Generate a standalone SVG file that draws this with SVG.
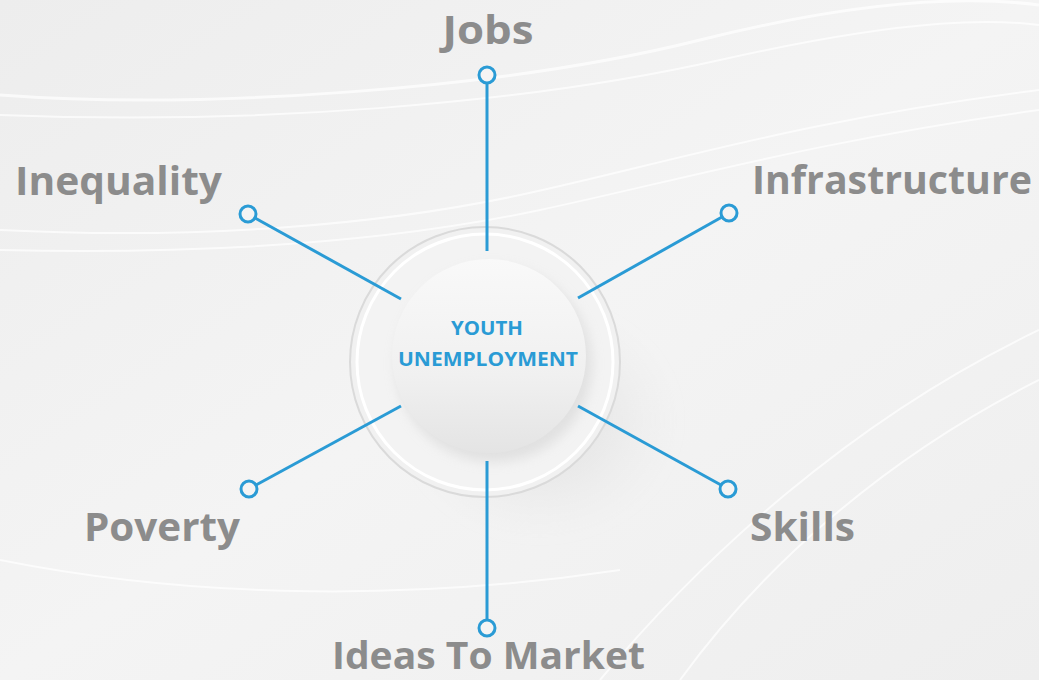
<svg xmlns="http://www.w3.org/2000/svg" width="1039" height="680" viewBox="0 0 1039 680">
<defs>
<style>
.lbl{font-family:"Open Sans","Liberation Sans",sans-serif;font-weight:700;fill:#8c8c8c;font-size:40px}
.ctr{font-family:"Open Sans","Liberation Sans",sans-serif;font-weight:700;fill:#2a9bd5;font-size:20px;text-anchor:middle}
.ln{stroke:#2a9bd5;stroke-width:3;fill:none}
.dot{stroke:#2a9bd5;stroke-width:3;fill:#f4f4f4}
.swoosh{fill:none;stroke:#ffffff;stroke-opacity:0.7}
</style>
<linearGradient id="bg" x1="0" y1="0" x2="1" y2="1">
<stop offset="0" stop-color="#ededed"/>
<stop offset="0.5" stop-color="#f4f4f4"/>
<stop offset="1" stop-color="#eeeeee"/>
</linearGradient>
<linearGradient id="disc" x1="0" y1="0" x2="0" y2="1">
<stop offset="0" stop-color="#f9f9f9"/>
<stop offset="0.6" stop-color="#f0f0f0"/>
<stop offset="1" stop-color="#e4e4e4"/>
</linearGradient>
<radialGradient id="shadow" cx="0.5" cy="0.5" r="0.5">
<stop offset="0" stop-color="#cfcfcf" stop-opacity="0.6"/>
<stop offset="1" stop-color="#e0e0e0" stop-opacity="0"/>
</radialGradient>
<filter id="blur" x="-20%" y="-20%" width="140%" height="140%"><feGaussianBlur stdDeviation="6"/></filter>
</defs>
<rect width="1039" height="680" fill="url(#bg)"/>
<g id="background">
<path class="swoosh" stroke-width="3" d="M0,95 C200,110 500,90 700,40 S1000,0 1039,5"/>
<path class="swoosh" stroke-width="2" d="M0,115 C250,125 520,105 720,60 S1000,20 1039,25"/>
<path class="swoosh" stroke-width="2" d="M0,230 C200,240 380,225 520,195 S800,120 1039,90"/>
<path class="swoosh" stroke-width="2" d="M0,250 C220,255 400,240 540,210 S820,140 1039,110"/>
<path class="swoosh" stroke-width="2" d="M600,680 C700,560 850,420 1039,330"/>
<path class="swoosh" stroke-width="2" d="M680,680 C760,570 880,460 1039,380"/>
<path class="swoosh" stroke-width="2" d="M0,560 C200,600 420,600 620,570"/>
</g>
<g id="hub">
<ellipse cx="540" cy="420" rx="140" ry="120" fill="url(#shadow)" filter="url(#blur)"/>
<circle cx="485" cy="362" r="135" fill="#f1f1f1" stroke="#dadada" stroke-width="2"/>
<circle cx="485" cy="362" r="128" fill="#f3f3f3" stroke="#ffffff" stroke-width="3"/>
<circle cx="494" cy="364" r="98" fill="#d9d9d9" filter="url(#blur)" opacity="0.7"/>
<circle cx="489" cy="356" r="97" fill="url(#disc)"/>
<text class="ctr" x="487" y="335" textLength="72" lengthAdjust="spacingAndGlyphs">YOUTH</text>
<text class="ctr" x="488" y="366" textLength="180" lengthAdjust="spacingAndGlyphs">UNEMPLOYMENT</text>
</g>
<g id="connectors">
<line class="ln" x1="487" y1="82" x2="487" y2="251"/>
<line class="ln" x1="255" y1="218" x2="401" y2="299"/>
<line class="ln" x1="722" y1="217" x2="578" y2="298"/>
<line class="ln" x1="256" y1="485" x2="401" y2="406"/>
<line class="ln" x1="721" y1="485" x2="578" y2="406"/>
<line class="ln" x1="487" y1="461" x2="487" y2="620"/>
</g>
<g id="node-jobs">
<circle class="dot" cx="487" cy="75" r="8"/>
<text class="lbl" x="488" y="44" text-anchor="middle" textLength="91" lengthAdjust="spacingAndGlyphs">Jobs</text>
</g>
<g id="node-inequality">
<circle class="dot" cx="248" cy="214" r="8"/>
<text class="lbl" x="15" y="195" textLength="207" lengthAdjust="spacingAndGlyphs">Inequality</text>
</g>
<g id="node-infrastructure">
<circle class="dot" cx="729" cy="213" r="8"/>
<text class="lbl" x="752" y="194" textLength="280" lengthAdjust="spacingAndGlyphs">Infrastructure</text>
</g>
<g id="node-poverty">
<circle class="dot" cx="249" cy="489" r="8"/>
<text class="lbl" x="84" y="541" textLength="156" lengthAdjust="spacingAndGlyphs">Poverty</text>
</g>
<g id="node-skills">
<circle class="dot" cx="728" cy="489" r="8"/>
<text class="lbl" x="750" y="541" textLength="105" lengthAdjust="spacingAndGlyphs">Skills</text>
</g>
<g id="node-ideas">
<circle class="dot" cx="487" cy="628" r="8"/>
<text class="lbl" x="332" y="669" style="font-size:38px" textLength="313" lengthAdjust="spacingAndGlyphs">Ideas To Market</text>
</g>
</svg>
